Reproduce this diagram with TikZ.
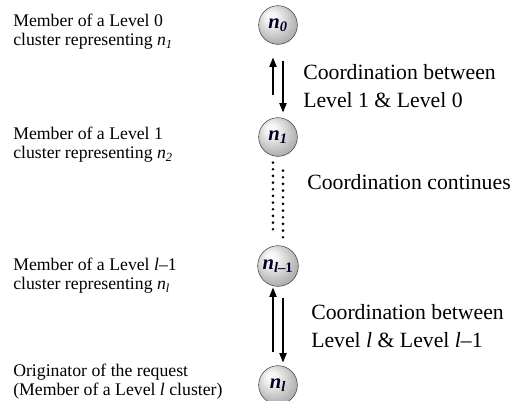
\documentclass[tikz,border=0pt]{standalone}
\usepackage{fontspec}
\setmainfont{Liberation Serif}
\usetikzlibrary{arrows.meta,calc}
\pgfdeclareradialshading{greyball}{\pgfpoint{-10bp}{12bp}}{%
  color(0bp)=(white); color(8bp)=(white!90!gray); color(22bp)=(gray!45);
  color(32bp)=(gray!70); color(50bp)=(gray!80)}
\tikzset{
  ball/.style={circle, draw=gray!50!black, line width=0.4pt, shading=greyball,
    minimum size=29pt, inner sep=0pt,
    font=\fontsize{15.5}{15.5}\selectfont\bfseries\itshape, text=black!85!blue},
  lefttext/.style={anchor=west, align=left, inner sep=0pt,
    font=\fontsize{13.3}{14.2}\selectfont},
  righttext/.style={anchor=west, align=left, inner sep=0pt,
    font=\fontsize{16.3}{21}\selectfont},
  arr/.style={line width=0.8pt, -{Triangle[length=7pt,width=5.5pt]}},
  dots/.style={line width=2.2pt, line cap=round, dash pattern=on 0pt off 5pt}
}
\begin{document}
\begin{tikzpicture}[x=0.75pt,y=-0.75pt]
\useasboundingbox (0,0) rectangle (528,400);
\fill[white] (0,0) rectangle (528,400);
% nodes
\node[ball] (n0) at (278,25) {n\textsubscript{0}};
\node[ball] (n1) at (278,137) {n\textsubscript{1}};
\node[ball, minimum size=30.5pt] (nl1) at (278,266) {n\textsubscript{\textit{l}\textup{–1}}};
\node[ball] (nl) at (278,385) {n\textsubscript{l}};
% left texts
\node[lefttext] (t0) at (13,32) {Member of a Level 0\\cluster representing \textit{n}\textsubscript{\textit{1}}};
\node[lefttext] (t1) at (13,145) {Member of a Level 1\\cluster representing \textit{n}\textsubscript{\textit{2}}};
\node[lefttext] (t2) at (13,276) {Member of a Level \textit{l}–1\\cluster representing \textit{n}\textsubscript{\textit{l}}};
\node[lefttext] (t3) at (13,382) {Originator of the request\\(Member of a Level \textit{l} cluster)};
% right texts
\node[righttext] (r0) at (303,86) {Coordination between\\Level 1 \& Level 0};
\node[righttext] (r1) at (307,182) {Coordination continues};
\node[righttext] (r2) at (311,326) {Coordination between\\Level \textit{l} \& Level \textit{l}–1};
% connectors
\draw[arr] ($(n1.north)+(-5,-22)$) -- ($(n0.south)+(-5,13)$);
\draw[arr] ($(n0.south)+(5,16)$) -- ($(n1.north)+(5,-5)$);
\draw[dots] ($(n1.south)+(-5,6)$) -- ($(nl1.north)+(-5,-16)$);
\draw[dots] ($(n1.south)+(5,14)$) -- ($(nl1.north)+(5,-8)$);
\draw[arr] ($(nl.north)+(-5,-13)$) -- ($(nl1.south)+(-5,1)$);
\draw[arr] ($(nl1.south)+(5,11)$) -- ($(nl.north)+(5,-3)$);
\end{tikzpicture}
\end{document}
